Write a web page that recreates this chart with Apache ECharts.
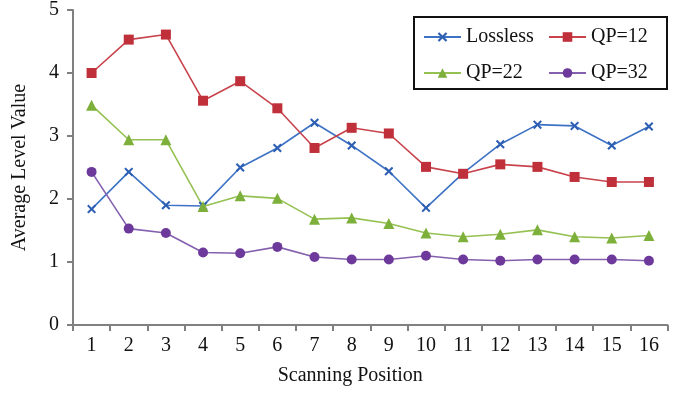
<!DOCTYPE html>
<html>
<head>
<meta charset="utf-8">
<script src="https://cdn.jsdelivr.net/npm/echarts@6/dist/echarts.min.js"></script>
<style>
  html, body { margin: 0; padding: 0; background: #fff; }
  #chart { width: 685px; height: 394px; }
</style>
</head>
<body>
<div id="chart"></div>
<script>
// Scanning positions along the x axis
const positions = ['1','2','3','4','5','6','7','8','9','10','11','12','13','14','15','16'];

// Average level value per scanning position
const lossless = [1.84, 2.43, 1.90, 1.89, 2.50, 2.81, 3.21, 2.85, 2.44, 1.86, 2.41, 2.87, 3.18, 3.16, 2.85, 3.15];
const qp12     = [4.00, 4.53, 4.61, 3.56, 3.87, 3.44, 2.81, 3.13, 3.04, 2.51, 2.40, 2.55, 2.51, 2.35, 2.27, 2.27];
const qp22     = [3.49, 2.94, 2.94, 1.88, 2.05, 2.01, 1.68, 1.70, 1.61, 1.46, 1.40, 1.44, 1.51, 1.40, 1.38, 1.42];
const qp32     = [2.43, 1.53, 1.46, 1.15, 1.14, 1.24, 1.08, 1.04, 1.04, 1.10, 1.04, 1.02, 1.04, 1.04, 1.04, 1.02];

const yTicks = [0, 1, 2, 3, 4, 5];

const FONT = '"Liberation Serif", "Times New Roman", serif';
const AXIS_GREY = '#808080';
const TEXT = '#111';

// Filled "x" glyph for the lossless series
const crossPath = 'path://M0,1.6L1.6,0L5,3.4L8.4,0L10,1.6L6.6,5L10,8.4L8.4,10L5,6.6L1.6,10L0,8.4L3.4,5Z';

function lineSeries(name, data, color, lineColor, symbol, size) {
  return {
    name: name,
    type: 'line',
    data: data,
    symbol: symbol,
    symbolSize: size,
    showSymbol: true,
    lineStyle: { color: lineColor, width: 1.6 },
    itemStyle: { color: color },
    emphasis: { disabled: true },
    animation: false
  };
}

const chart = echarts.init(document.getElementById('chart'), null, { renderer: 'canvas' });

const legendText = { fontFamily: FONT, fontSize: 20, color: TEXT, lineHeight: 20 };

chart.setOption({
  backgroundColor: '#fff',
  animation: false,
  grid: { left: 73, right: 17.5, top: 7, bottom: 69, containLabel: false },
  legend: [
    {
      orient: 'vertical', left: 423, top: 27, padding: 0,
      itemWidth: 37, itemHeight: 12, itemGap: 16,
      textStyle: legendText,
      data: ['Lossless', 'QP=22']
    },
    {
      orient: 'vertical', left: 548, top: 27, padding: 0,
      itemWidth: 37, itemHeight: 12, itemGap: 16,
      textStyle: legendText,
      data: ['QP=12', 'QP=32']
    }
  ],
  graphic: [{
    type: 'rect',
    shape: { x: 414, y: 17, width: 253, height: 72 },
    style: { fill: 'none', stroke: TEXT, lineWidth: 2 },
    silent: true
  }],
  xAxis: {
    type: 'category',
    data: positions,
    boundaryGap: true,
    name: 'Scanning Position',
    nameLocation: 'middle',
    nameGap: 41,
    nameTextStyle: { fontFamily: FONT, fontSize: 20, color: TEXT, padding: [0, 40, 0, 0] },
    axisLine: { show: true, lineStyle: { color: AXIS_GREY, width: 2 } },
    axisTick: { show: true, alignWithLabel: false, inside: false, length: 6, lineStyle: { color: AXIS_GREY, width: 2 } },
    axisLabel: { fontFamily: FONT, fontSize: 20, color: TEXT, margin: 11 },
    splitLine: { show: false }
  },
  yAxis: {
    type: 'value',
    min: yTicks[0],
    max: yTicks[yTicks.length - 1],
    interval: 1,
    name: 'Average Level Value',
    nameLocation: 'middle',
    nameGap: 43,
    nameRotate: 90,
    nameTextStyle: { fontFamily: FONT, fontSize: 20, color: TEXT },
    axisLine: { show: true, lineStyle: { color: AXIS_GREY, width: 2 } },
    axisTick: { show: true, inside: false, length: 6, lineStyle: { color: AXIS_GREY, width: 2 } },
    axisLabel: { fontFamily: FONT, fontSize: 20, color: TEXT, margin: 14 },
    splitLine: { show: false }
  },
  series: [
    lineSeries('Lossless', lossless, '#2C5FB3', '#3D72C4', crossPath, 9),
    lineSeries('QP=12', qp12, '#C0303A', '#C8434C', 'rect', 10),
    lineSeries('QP=22', qp22, '#7DB03A', '#95C152', 'triangle', 11),
    lineSeries('QP=32', qp32, '#6D3A9C', '#8460AE', 'circle', 10)
  ]
});
</script>
</body>
</html>
